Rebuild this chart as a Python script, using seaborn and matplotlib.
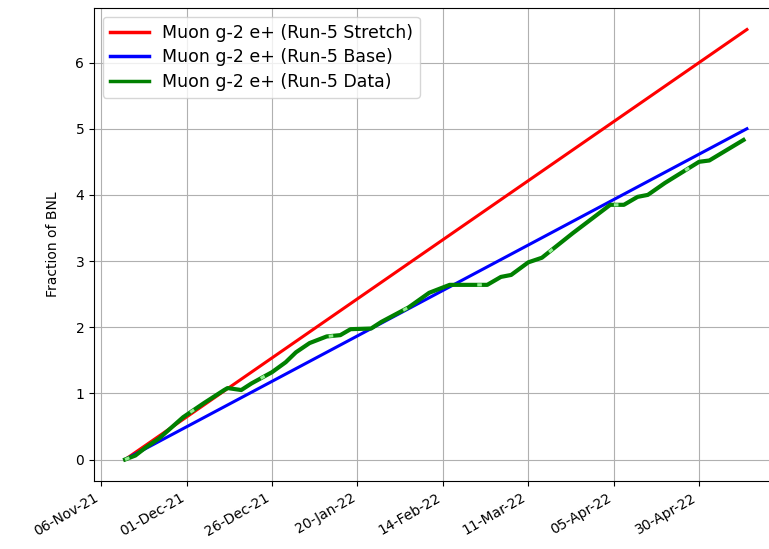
import pandas as pd
import matplotlib
matplotlib.use("Agg")
import matplotlib.pyplot as plt
import matplotlib.dates as mdates
import seaborn as sns

# planned projections: start and end of Run-5
plan_dates = ["2021-11-13", "2022-05-14"]
stretch_vals = [0.0, 6.5]
base_vals = [0.0, 5.0]

# accumulated data
data_dates = ["2021-11-13", "2021-11-16", "2021-11-19", "2021-11-23", "2021-11-30",
              "2021-12-06", "2021-12-12", "2021-12-13", "2021-12-17", "2021-12-20",
              "2021-12-26", "2021-12-30", "2022-01-02", "2022-01-06", "2022-01-11",
              "2022-01-15", "2022-01-18", "2022-01-24", "2022-01-27", "2022-02-04",
              "2022-02-10", "2022-02-16", "2022-02-27", "2022-03-03", "2022-03-06",
              "2022-03-11", "2022-03-15", "2022-03-24", "2022-04-04", "2022-04-08",
              "2022-04-12", "2022-04-15", "2022-04-20", "2022-04-30", "2022-05-03",
              "2022-05-13"]
data_vals = [0.0, 0.06, 0.18, 0.32, 0.64,
             0.85, 1.05, 1.08, 1.05, 1.15,
             1.32, 1.47, 1.62, 1.76, 1.86,
             1.88, 1.97, 1.98, 2.08, 2.30,
             2.52, 2.64, 2.64, 2.76, 2.79,
             2.98, 3.05, 3.42, 3.85, 3.85,
             3.97, 4.00, 4.18, 4.50, 4.52,
             4.83]

tick_dates = ["2021-11-06", "2021-12-01", "2021-12-26", "2022-01-20", "2022-02-14",
              "2022-03-11", "2022-04-05", "2022-04-30"]

plan = pd.DataFrame({"date": pd.to_datetime(plan_dates),
                     "stretch": stretch_vals, "base": base_vals})
data = pd.DataFrame({"date": pd.to_datetime(data_dates), "frac": data_vals})

fig = plt.figure(figsize=(7.69, 5.49), dpi=100)
ax = fig.add_axes([94 / 769, 68 / 549, 684 / 769, 473 / 549])

sns.lineplot(data=plan, x="date", y="stretch", color="red", lw=2.2,
             label="Muon g-2 e+ (Run-5 Stretch)", ax=ax)
sns.lineplot(data=plan, x="date", y="base", color="blue", lw=2.2,
             label="Muon g-2 e+ (Run-5 Base)", ax=ax)
sns.lineplot(data=data, x="date", y="frac", color="green", lw=3,
             label="Muon g-2 e+ (Run-5 Data)", ax=ax)
# light green overlay showing through in spots
ax.plot(data["date"], data["frac"], color="lightgreen", lw=2.2,
        linestyle=(0, (1.5, 25)), zorder=3)

ax.xaxis.set_major_locator(plt.FixedLocator(mdates.date2num(pd.to_datetime(tick_dates))))
ax.xaxis.set_major_formatter(mdates.DateFormatter("%d-%b-%y"))
plt.setp(ax.get_xticklabels(), rotation=30, ha="right")

ax.set_xlabel("")
ax.set_ylabel("Fraction of BNL", labelpad=11)
ax.grid(True, color="#b0b0b0", lw=0.8)
leg = ax.legend(loc="upper left", fontsize=12.5, labelspacing=0.38,
                handlelength=2.25, handletextpad=0.75)
for h in leg.get_lines():
    h.set_linewidth(2.5)

fig.savefig("out.png", dpi=100)
